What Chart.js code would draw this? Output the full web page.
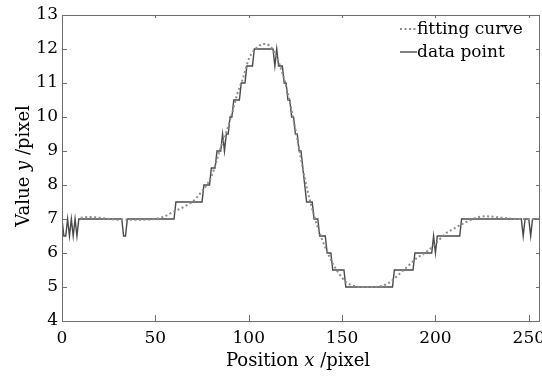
<!DOCTYPE html>
<html lang="en">
<head>
  <meta charset="UTF-8" />
  <title>Fitting curve vs data point</title>
  <script src="https://cdn.jsdelivr.net/npm/chart.js"></script>
  <style>
    * { margin: 0; padding: 0; box-sizing: border-box; }
    body { background: #fff; width: 542px; height: 376px; overflow: hidden; }
    canvas { display: block; }
  </style>
</head>
<body>
<canvas id="profileChart" width="542" height="376"></canvas>

<script>
  // measured values, one per pixel position (x = index, 0..256)
  const dataY = [
    7, 6.5, 6.5, 7, 6.5, 7, 6.5, 7, 6.5, 7, 7, 7, 7, 7, 7, 7,
    7, 7, 7, 7, 7, 7, 7, 7, 7, 7, 7, 7, 7, 7, 7, 7,
    7, 6.5, 6.5, 7, 7, 7, 7, 7, 7, 7, 7, 7, 7, 7, 7, 7,
    7, 7, 7, 7, 7, 7, 7, 7, 7, 7, 7, 7, 7, 7.5, 7.5, 7.5,
    7.5, 7.5, 7.5, 7.5, 7.5, 7.5, 7.5, 7.5, 7.5, 7.5, 7.5, 7.5, 8, 8, 8, 8,
    8.5, 8.5, 8.5, 9, 9, 9, 9.5, 9, 9.5, 9.5, 10, 10, 10.5, 10.5, 10.5, 10.5,
    11, 11, 11, 11.5, 11.5, 11.5, 11.5, 12, 12, 12, 12, 12, 12, 12, 12, 12,
    12, 12, 11.5, 12, 11.5, 11.5, 11.5, 11, 11, 10.5, 10.5, 10, 10, 9.5, 9.5, 9,
    9, 8.5, 8, 7.5, 7.5, 7.5, 7.5, 7, 7, 7, 6.5, 6.5, 6.5, 6.5, 6, 6,
    6, 5.5, 5.5, 5.5, 5.5, 5.5, 5.5, 5.5, 5, 5, 5, 5, 5, 5, 5, 5,
    5, 5, 5, 5, 5, 5, 5, 5, 5, 5, 5, 5, 5, 5, 5, 5,
    5, 5, 5.5, 5.5, 5.5, 5.5, 5.5, 5.5, 5.5, 5.5, 5.5, 5.5, 5.5, 6, 6, 6,
    6, 6, 6, 6, 6, 6, 6, 6.5, 6, 6.5, 6.5, 6.5, 6.5, 6.5, 6.5, 6.5,
    6.5, 6.5, 6.5, 6.5, 6.5, 6.5, 7, 7, 7, 7, 7, 7, 7, 7, 7, 7,
    7, 7, 7, 7, 7, 7, 7, 7, 7, 7, 7, 7, 7, 7, 7, 7,
    7, 7, 7, 7, 7, 7, 7, 6.5, 7, 7, 7, 6.5, 7, 7, 7, 7,
    7
  ];

  // fitting curve
  const fitX = [10, 15, 20, 25, 30, 40, 50, 55, 60, 65, 70, 75, 80, 85, 88, 91, 94, 97, 100, 104, 108, 111, 114, 118,
                122, 126, 130, 133, 137, 140, 144, 148, 152, 156, 160, 165, 170, 175, 178, 181, 185, 190, 195, 200,
                205, 210, 216, 222, 227, 235, 245, 256];
  const fitY = [7.04, 7.06, 7.04, 7.0, 6.98, 6.98, 7.0, 7.08, 7.22, 7.35, 7.52, 7.82, 8.25, 9.1, 9.55, 10.1, 10.7, 11.15, 11.7, 12.02, 12.15, 12.1, 11.88, 11.3,
                10.45, 9.35, 8.2, 7.5, 6.75, 6.3, 5.8, 5.42, 5.15, 5.04, 5.0, 5.0, 5.02, 5.12, 5.25, 5.4, 5.6, 5.85, 6.03, 6.27,
                6.55, 6.72, 6.9, 7.04, 7.08, 7.04, 7.0, 7.0];

  const xTicks = [0, 50, 100, 150, 200, 250];
  const yTicks = [4, 5, 6, 7, 8, 9, 10, 11, 12, 13];

  const FONT = 'DejaVu Serif';
  const frameColor = '#6e6e6e';

  // frame, inward ticks, axis titles and the legend inside the plot
  const decor = {
    id: 'decor',
    afterDraw(chart) {
      const { ctx, chartArea: a, scales: { x, y } } = chart;
      ctx.save();
      ctx.strokeStyle = frameColor;
      ctx.lineWidth = 1;
      ctx.strokeRect(a.left + 0.5, a.top + 0.5, a.right - a.left - 1, a.bottom - a.top);
      ctx.beginPath();
      xTicks.forEach(v => {
        const px = Math.round(x.getPixelForValue(v)) + 0.5;
        ctx.moveTo(px, a.bottom); ctx.lineTo(px, a.bottom - 6);
        ctx.moveTo(px, a.top); ctx.lineTo(px, a.top + 3);
      });
      yTicks.forEach(v => {
        const py = Math.round(y.getPixelForValue(v)) + 0.5;
        ctx.moveTo(a.left, py); ctx.lineTo(a.left + 5, py);
        ctx.moveTo(a.right, py); ctx.lineTo(a.right - 4, py);
      });
      ctx.stroke();

      // axis titles, with the variable in italics
      ctx.fillStyle = '#000';
      ctx.textBaseline = 'alphabetic';
      function mixed(parts, cx, cy) {
        let w = 0;
        parts.forEach(p => { ctx.font = p[1] + ' 18px "' + FONT + '"'; w += ctx.measureText(p[0]).width; });
        let cur = cx - w / 2;
        ctx.textAlign = 'left';
        parts.forEach(p => {
          ctx.font = p[1] + ' 18px "' + FONT + '"';
          ctx.fillText(p[0], cur, cy);
          cur += ctx.measureText(p[0]).width;
        });
      }
      mixed([['Position ', 'normal'], ['x', 'italic'], [' /pixel', 'normal']], 298, 366);
      ctx.save();
      ctx.translate(29, 166);
      ctx.rotate(-Math.PI / 2);
      mixed([['Value ', 'normal'], ['y', 'italic'], [' /pixel', 'normal']], 0, 0);
      ctx.restore();

      // legend
      const items = chart.data.datasets;
      ctx.font = '17px "' + FONT + '"';
      ctx.textAlign = 'left';
      items.forEach((ds, i) => {
        const ly = 29 + i * 23;
        ctx.save();
        ctx.strokeStyle = ds.borderColor;
        ctx.lineWidth = ds.borderWidth;
        ctx.setLineDash(ds.borderDash || []);
        ctx.beginPath();
        ctx.moveTo(400, ly); ctx.lineTo(417, ly);
        ctx.stroke();
        ctx.restore();
        ctx.fillText(ds.label, 417, ly + 5);
      });
      ctx.restore();
    }
  };

  new Chart(document.getElementById('profileChart'), {
    type: 'line',
    data: {
      datasets: [
        {
          label: 'fitting curve',
          data: fitX.map((v, i) => ({ x: v, y: fitY[i] })),
          borderColor: '#8c8c8c',
          borderWidth: 2,
          borderDash: [2, 2.5],
          pointRadius: 0,
          cubicInterpolationMode: 'monotone'
        },
        {
          label: 'data point',
          data: dataY.map((v, i) => ({ x: i, y: v })),
          borderColor: '#4a4a4a',
          borderWidth: 1.4,
          pointRadius: 0,
          tension: 0
        }
      ]
    },
    options: {
      responsive: false,
      animation: false,
      devicePixelRatio: 1,
      layout: { autoPadding: false, padding: { top: 15, right: 2, left: 0, bottom: 0 } },
      plugins: { legend: { display: false }, tooltip: { enabled: false } },
      scales: {
        x: {
          type: 'linear', min: 0, max: 256,
          afterBuildTicks: s => { s.ticks = xTicks.map(v => ({ value: v })); },
          afterFit: s => { s.height = 55; s.paddingLeft = 0; s.paddingRight = 0; },
          grid: { drawOnChartArea: false, drawTicks: false },
          border: { display: false },
          ticks: { padding: 7, color: '#000', font: { family: FONT, size: 17 }, maxRotation: 0 }
        },
        y: {
          min: 4, max: 13,
          afterBuildTicks: s => { s.ticks = yTicks.map(v => ({ value: v })); },
          afterFit: s => { s.width = 62; s.paddingTop = 0; s.paddingBottom = 0; },
          grid: { drawOnChartArea: false, drawTicks: false },
          border: { display: false },
          ticks: { padding: 4, color: '#000', font: { family: FONT, size: 17 } }
        }
      }
    },
    plugins: [decor]
  });
</script>
</body>
</html>
